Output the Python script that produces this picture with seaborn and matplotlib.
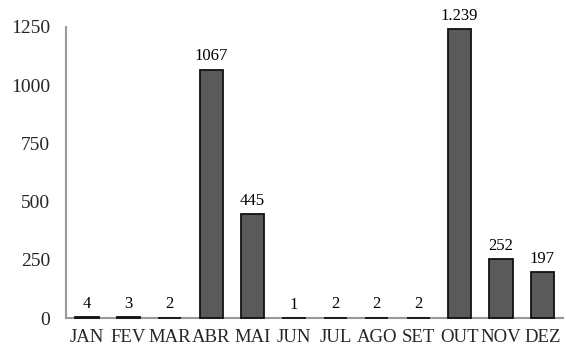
import matplotlib
matplotlib.use("Agg")
import matplotlib.pyplot as plt
import seaborn as sns
import pandas as pd

months = ["JAN", "FEV", "MAR", "ABR", "MAI", "JUN", "JUL", "AGO", "SET", "OUT", "NOV", "DEZ"]
values = [4, 3, 2, 1067, 445, 1, 2, 2, 2, 1239, 252, 197]
value_labels = ["4", "3", "2", "1067", "445", "1", "2", "2", "2", "1.239", "252", "197"]
yticks = [0, 250, 500, 750, 1000, 1250]

sns.set_theme(style="white")
plt.rcParams['font.family'] = ['Liberation Serif', 'DejaVu Serif']

df = pd.DataFrame({"mes": months, "valor": values})

fig = plt.figure(figsize=(5.66, 3.45), dpi=100)
ax = fig.add_axes([0.117, 0.078, 0.878, 0.844])
sns.barplot(data=df, x="mes", y="valor", color="#5a5a5a", edgecolor="#111111",
            linewidth=1.3, width=0.56, saturation=1, ax=ax)
for p in ax.patches:
    p.set_zorder(3)
    p.set_clip_on(False)

for i, (v, lab) in enumerate(zip(values, value_labels)):
    ax.text(i, v + 22, lab, ha="center", va="bottom", fontsize=12, color="black")

ax.set_ylim(0, 1250)
ax.set_xlim(-0.5, 11.5)
ax.set_yticks(yticks)
ax.set_yticklabels([str(t) for t in yticks], fontsize=14)
ax.set_xticklabels(months, fontsize=13.5)
ax.set_xlabel("")
ax.set_ylabel("")
ax.tick_params(axis="y", length=0, pad=11.5)
ax.tick_params(axis="x", length=0, pad=8)
for s in ["top", "right"]:
    ax.spines[s].set_visible(False)
for s in ["left", "bottom"]:
    ax.spines[s].set_color("#999999")
    ax.spines[s].set_linewidth(1.5)

fig.savefig("out.png", dpi=100)
